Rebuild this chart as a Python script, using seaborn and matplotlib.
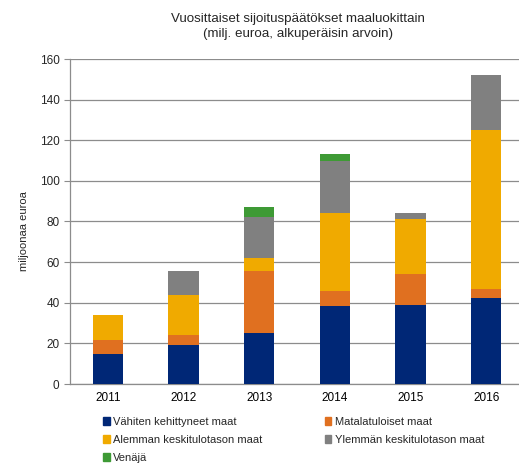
import numpy as np
import pandas as pd
import matplotlib
matplotlib.use("Agg")
import matplotlib.pyplot as plt
import seaborn as sns
from matplotlib.patches import Patch

years = ["2011", "2012", "2013", "2014", "2015", "2016"]
vahiten = [15.0, 19.2, 24.9, 38.6, 38.9, 42.3]
matalatuloiset = [6.5, 4.9, 30.9, 7.0, 15.1, 4.3]
alemman = [12.6, 19.9, 6.4, 38.6, 27.2, 78.6]
ylemman = [0.0, 11.8, 19.8, 25.4, 3.0, 27.1]
venaja = [0.0, 0.0, 5.1, 3.8, 0.0, 0.0]

series = [
    ("Vähiten kehittyneet maat", vahiten, "#002776"),
    ("Matalatuloiset maat", matalatuloiset, "#E07020"),
    ("Alemman keskitulotason maat", alemman, "#F0AA00"),
    ("Ylemmän keskitulotason maat", ylemman, "#808080"),
    ("Venäjä", venaja, "#3E9A35"),
]

sns.set_style("white")
plt.rcParams["font.family"] = ["Liberation Sans", "DejaVu Sans"]

fig = plt.figure(figsize=(5.19, 4.65), dpi=100)
ax = fig.add_axes([70 / 519, 1 - 384 / 465, 454 / 519, 325 / 465])

bottom = np.zeros(len(years))
for name, vals, col in series:
    df = pd.DataFrame({"year": years, "value": vals})
    sns.barplot(data=df, x="year", y="value", color=col, width=0.4,
                bottom=bottom, ax=ax, saturation=1, linewidth=0, zorder=3)
    bottom = bottom + np.array(vals)

ax.set_xlim(-0.5, 5.5)
ax.set_ylim(0, 160)
ax.set_yticks(range(0, 161, 20))
ax.yaxis.grid(True, color="#8c8c8c", linewidth=0.9, zorder=0)
ax.set_axisbelow(True)
for s in ["top", "right"]:
    ax.spines[s].set_visible(False)
for s in ["left", "bottom"]:
    ax.spines[s].set_color("#8c8c8c")
    ax.spines[s].set_linewidth(0.9)

ax.set_xticks(np.arange(-0.5, 6, 1), minor=True)
ax.tick_params(axis="x", which="major", length=0, labelsize=8.5, pad=6, colors="black")
ax.tick_params(axis="x", which="minor", length=4, color="#8c8c8c", direction="out")
ax.tick_params(axis="y", length=4, color="#8c8c8c", labelsize=8.5, direction="out", left=True)
ax.set_xlabel("")
ax.set_ylabel("miljoonaa euroa", fontsize=8, labelpad=8)
ax.yaxis.set_label_coords(-0.09, 0.47)

fig.text(0.575, 0.943, "Vuosittaiset sijoituspäätökset maaluokittain\n(milj. euroa, alkuperäisin arvoin)",
         ha="center", va="center", fontsize=9.6, linespacing=1.35)

handles = [Patch(color=c, label=n) for n, _, c in series]
order = [0, 2, 4, 1, 3]
leg = fig.legend([handles[i] for i in order], [series[i][0] for i in order],
                 ncol=2, loc="upper left", bbox_to_anchor=(0.19, 0.113),
                 frameon=False, fontsize=8, handlelength=0.6, handleheight=0.6,
                 handletextpad=0.3, columnspacing=5.6, labelspacing=0.72,
                 borderaxespad=0)

fig.savefig("out.png", dpi=100)
